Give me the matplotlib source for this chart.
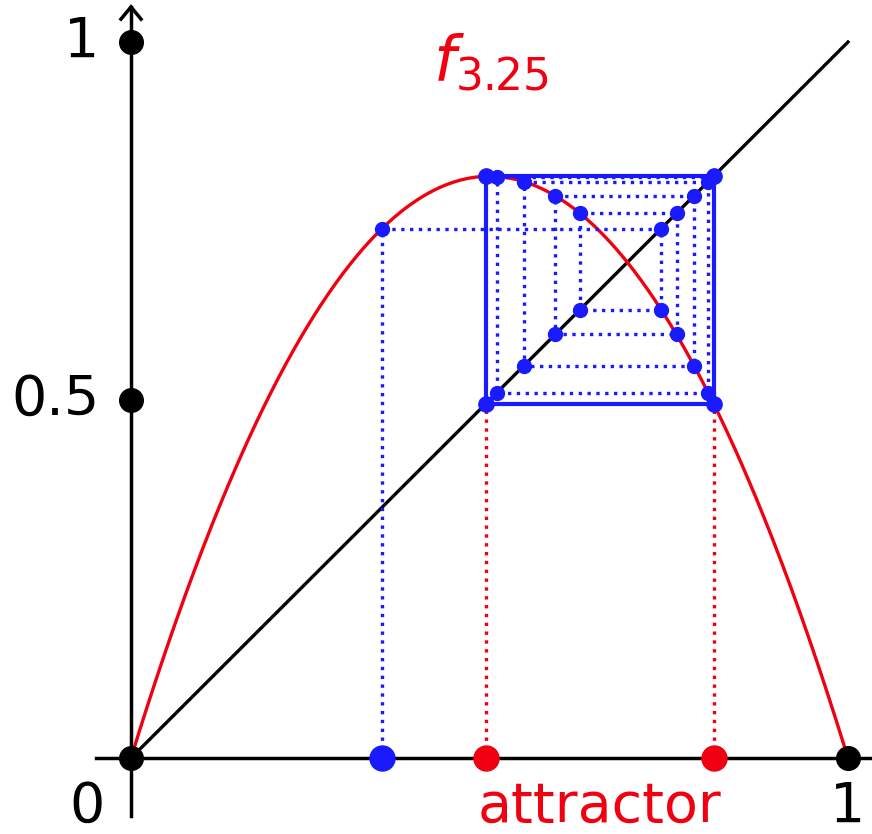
import numpy as np
import matplotlib
matplotlib.use("Agg")
import matplotlib.pyplot as plt

# logistic map parameter and the orbit of x0 = 0.35
r = 3.25
orbit = [0.35, 0.739, 0.626, 0.761, 0.592, 0.785, 0.548, 0.805, 0.510, 0.812]
attractor = [0.495, 0.8125]
y_ticks = [0.5, 1.0]
y_tick_labels = ["0.5", "1"]

red = "#f00010"
blue = "#1a1aff"

plt.rcParams["mathtext.fontset"] = "dejavusans"

fig = plt.figure(figsize=(8.72, 8.34), dpi=100)
ax = fig.add_axes([0, 0, 1, 1])
ax.set_xlim(-0.1827, 1.0335)
ax.set_ylim(-0.1061, 1.0587)
ax.axis("off")

# axes through the origin, arrow on the vertical one
ax.plot([-0.049, 1.04], [0, 0], color="black", lw=2.5, zorder=2)
ax.plot([0, 0], [-0.081, 1.049], color="black", lw=2.5, zorder=2)
ax.plot([-0.014, 0, 0.014], [1.032, 1.049, 1.032], color="black", lw=2.5,
        solid_joinstyle="miter", zorder=2)

# the map and the diagonal
xs = np.linspace(0, 1, 400)
ax.plot(xs, r * xs * (1 - xs), color=red, lw=2.4, zorder=3)
ax.plot([0, 1], [0, 1], color="black", lw=2.4, zorder=2)

# dotted cobweb of the transient
cx = [orbit[0]]
cy = [0]
for a, b in zip(orbit[:-1], orbit[1:]):
    cx += [a, b]
    cy += [b, b]
ax.plot(cx, cy, color=blue, lw=2.4, ls=":", zorder=4)

# solid cobweb of the 2-cycle
lo, hi = attractor
ax.plot([lo, lo, hi, hi, lo], [lo, hi, hi, lo, lo], color=blue, lw=3.0, zorder=5)

# red dotted drop lines from the attractor to the axis
for a in attractor:
    ax.plot([a, a], [0, lo], color=red, lw=2.4, ls=":", zorder=4)

# cobweb points on the curve and on the diagonal
ax.plot(orbit[:-1], orbit[1:], "o", color=blue, ms=10, zorder=6)
ax.plot(orbit[1:], orbit[1:], "o", color=blue, ms=10, zorder=6)
ax.plot([lo, hi, lo, hi], [lo, lo, hi, hi], "o", color=blue, ms=11, zorder=6)

# points on the axes
ax.plot([0, 1, 0, 0], [0, 0] + y_ticks, "o", color="black", ms=17, zorder=7)
ax.plot(attractor, [0, 0], "o", color=red, ms=18, zorder=7)
ax.plot([orbit[0]], [0], "o", color=blue, ms=18, zorder=7)

fs = 40
for v, lab in zip(y_ticks, y_tick_labels):
    ax.text(-0.044, v, lab, fontsize=fs, ha="right", va="center")
ax.text(-0.062, -0.03, "0", fontsize=fs, ha="center", va="top")
ax.text(1.0, -0.03, "1", fontsize=fs, ha="center", va="top")
ax.text(np.mean(attractor), -0.03, "attractor", fontsize=fs, color=red,
        ha="center", va="top")
ax.text(0.502, 0.972, r"$f_{3.25}$", fontsize=45, color=red, ha="center", va="center")

fig.savefig("out.png", dpi=100)
